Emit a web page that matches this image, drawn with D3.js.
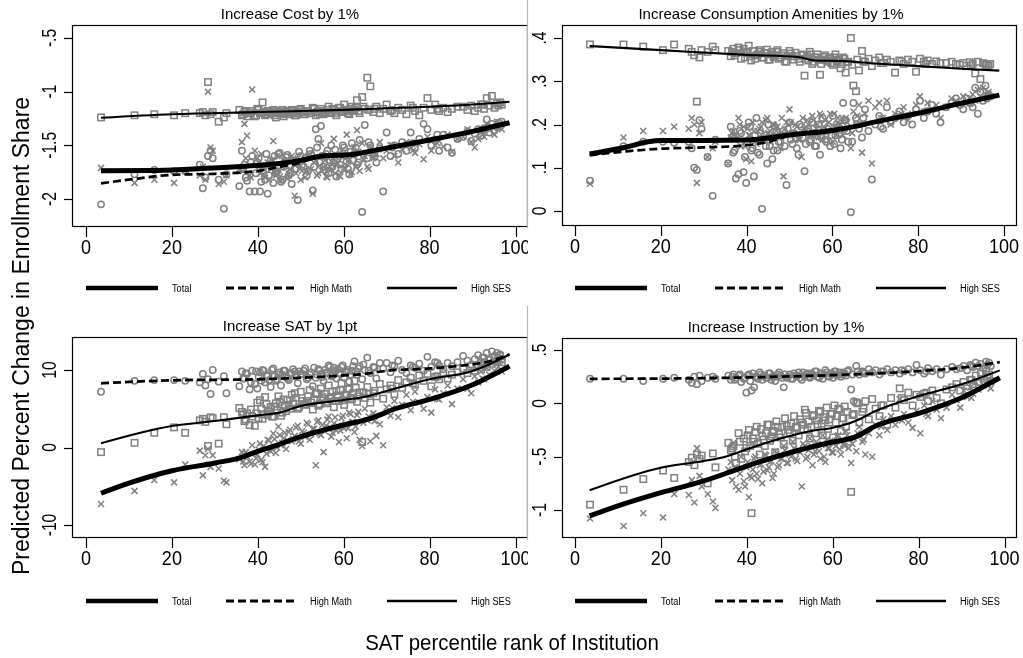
<!DOCTYPE html>
<html>
<head>
<meta charset="utf-8">
<script src="https://cdn.jsdelivr.net/npm/d3@7"></script>
<style>
  body { margin: 0; background: #fff; }
  svg { display: block; filter: grayscale(100%); }
  text { font-family: Arial, "Liberation Sans", Helvetica, sans-serif; fill: #000; }
</style>
</head>
<body>
<svg id="chart" width="1023" height="658"></svg>
<script>
// SAT percentile rank of each institution (shared by all four panels)
const institutionRank = [
  3.5, 11.3, 15.9, 20.5, 23.1, 26.5, 27.2, 27.8, 28.4, 29.0,
  29.5, 30.9, 32.1, 32.7, 35.7, 36.3, 36.9, 37.5, 38.1, 38.7,
  39.3, 39.9, 40.5, 41.1, 41.7, 42.3, 43.0, 43.6, 44.2, 44.8,
  45.4, 46.0, 46.6, 47.2, 47.9, 48.6, 49.3, 50.0, 50.7, 51.4,
  52.1, 52.8, 53.5, 54.1, 54.7, 55.3, 55.9, 56.5, 57.1, 57.7,
  58.3, 58.9, 59.5, 60.1, 60.7, 61.3, 61.9, 62.5, 63.1, 63.7,
  64.3, 64.9, 65.5, 66.2, 66.9, 67.6, 68.4, 69.2, 70.0, 70.9,
  71.8, 72.7, 73.6, 74.6, 75.6, 76.6, 77.6, 78.6, 79.5, 80.4,
  81.3, 82.2, 83.2, 84.2, 85.2, 87.8, 88.8, 89.7, 90.5, 91.3,
  92.0, 92.7, 93.3, 93.9, 94.5, 95.1, 95.7, 96.0, 96.4, 96.8,
  36.6, 37.2, 38.4, 39.6, 40.2, 40.8, 41.4, 42.0, 42.6, 43.3,
  43.9, 44.5, 45.1, 45.7, 46.3, 46.9, 47.5, 48.2, 48.9, 49.6,
  50.3, 51.0, 51.7, 52.4, 53.1, 53.8, 54.4, 55.0, 55.6, 56.2,
  56.8, 57.4, 58.0, 58.6, 59.2, 59.8, 60.4, 61.0, 61.6, 62.2,
  62.8, 63.4, 64.6, 65.8, 67.2, 71.3, 76.1, 81.8, 86.5, 92.3
];

// Increase Cost by 1%
const costTotal = [
  -1.71,-1.85,-1.82,-1.85,-1.74,-1.78,-1.70,-1.82,-1.00,-1.52,
  -1.55,-1.86,-1.84,-1.78,-1.72,-1.47,-1.30,-1.41,-1.78,-0.98,
  -1.55,-1.62,-1.76,-1.70,-1.80,-1.66,-1.72,-1.46,-1.78,-1.73,
  -1.83,-1.64,-1.70,-1.77,-1.60,-1.97,-1.62,-1.82,-1.66,-1.74,
  -1.58,-1.95,-1.64,-1.76,-1.48,-1.70,-1.79,-1.62,-1.73,-1.44,
  -1.68,-1.78,-1.55,-1.71,-1.40,-1.63,-1.75,-1.52,-1.36,-1.74,
  -1.48,-1.60,-1.70,-1.52,-1.62,-1.58,-1.47,-1.62,-1.55,-1.50,
  -1.60,-1.66,-1.54,-1.47,-1.52,-1.57,-1.49,-1.63,-1.42,-1.55,
  -1.50,-1.46,-1.51,-1.40,-1.56,-1.42,-1.35,-1.47,-1.52,-1.44,
  -1.38,-1.42,-1.30,-1.36,-1.32,-1.40,-1.28,-1.34,-1.30,-1.35,
  -1.74,-1.62,-1.80,-1.68,-1.73,-1.58,-1.77,-1.69,-1.82,-1.64,
  -1.75,-1.60,-1.79,-1.70,-1.66,-1.81,-1.72,-1.63,-1.76,-1.68,
  -1.74,-1.80,-1.60,-1.72,-1.66,-1.78,-1.69,-1.74,-1.64,-1.80,
  -1.70,-1.62,-1.76,-1.67,-1.79,-1.58,-1.72,-1.65,-1.77,-1.60,
  -1.70,-1.56,-1.64,-1.72,-1.58,-1.50,-1.55,-1.48,-1.44,-1.40
];
const costMath = [
  -2.05,-1.77,-1.73,-1.74,-1.74,-1.68,-1.90,-1.80,-1.60,-1.55,
  -1.62,-1.82,-2.09,-1.77,-1.88,-1.55,-1.68,-1.83,-1.93,-1.60,
  -1.93,-1.66,-1.93,-1.74,-1.82,-1.95,-1.64,-1.85,-1.76,-1.58,
  -1.84,-1.70,-1.61,-1.78,-1.86,-1.72,-2.01,-1.60,-1.70,-1.78,
  -1.55,-1.92,-1.35,-1.44,-1.32,-1.70,-1.58,-1.76,-1.50,-1.66,
  -1.79,-1.60,-1.72,-1.52,-1.65,-1.77,-1.48,-1.58,-1.68,-1.45,
  -2.12,-1.31,-1.62,-1.50,-1.58,-1.66,-1.53,-1.93,-1.38,-1.60,
  -1.50,-1.58,-1.47,-1.55,-1.38,-1.52,-1.44,-1.30,-1.35,-1.50,
  -1.45,-1.55,-1.40,-1.52,-1.57,-1.42,-1.37,-1.46,-1.39,-1.35,
  -1.41,-1.34,-1.26,-1.38,-1.30,-1.36,-1.33,-1.29,-1.32,-1.28,
  -1.72,-1.80,-1.66,-1.76,-1.62,-1.84,-1.70,-1.58,-1.78,-1.68,
  -1.60,-1.74,-1.57,-1.82,-1.66,-1.59,-1.76,-1.64,-1.72,-1.56,
  -1.68,-1.62,-1.74,-1.58,-1.70,-1.52,-1.66,-1.60,-1.73,-1.55,
  -1.64,-1.70,-1.54,-1.62,-1.68,-1.50,-1.60,-1.72,-1.56,-1.64,
  -1.52,-1.66,-1.58,-1.47,-1.60,-1.52,-1.48,-1.40,-1.44,-1.36
];
const costSES = [
  -1.24,-1.22,-1.21,-1.22,-1.20,-1.20,-1.19,-1.22,-0.91,-1.21,
  -1.19,-1.28,-1.24,-1.20,-1.17,-1.22,-1.19,-1.23,-1.20,-1.18,
  -1.23,-1.16,-1.20,-1.10,-1.22,-1.18,-1.20,-1.17,-1.24,-1.19,
  -1.20,-1.23,-1.18,-1.21,-1.17,-1.22,-1.19,-1.16,-1.21,-1.18,
  -1.20,-1.15,-1.22,-1.18,-1.16,-1.21,-1.19,-1.14,-1.20,-1.17,
  -1.22,-1.15,-1.19,-1.12,-1.18,-1.21,-1.14,-1.17,-1.08,-1.20,
  -1.05,-1.16,-0.87,-0.95,-1.19,-1.14,-1.20,-1.16,-1.12,-1.18,
  -1.20,-1.15,-1.17,-1.21,-1.13,-1.18,-1.22,-1.15,-1.06,-1.17,
  -1.12,-1.18,-1.15,-1.19,-1.16,-1.14,-1.17,-1.13,-1.18,-1.15,
  -1.12,-1.16,-1.06,-1.13,-1.04,-1.15,-1.11,-1.13,-1.10,-1.12,
  -1.21,-1.18,-1.20,-1.22,-1.17,-1.20,-1.19,-1.21,-1.18,-1.20,
  -1.22,-1.18,-1.20,-1.17,-1.21,-1.19,-1.18,-1.20,-1.22,-1.17,
  -1.19,-1.21,-1.18,-1.20,-1.16,-1.19,-1.21,-1.18,-1.20,-1.17,
  -1.19,-1.16,-1.20,-1.18,-1.15,-1.19,-1.17,-1.20,-1.16,-1.18,
  -1.15,-1.18,-1.14,-1.17,-1.16,-1.17,-1.15,-1.16,-1.14,-1.12
];
const costFitTotal = [[3.5,-1.737],[15,-1.735],[25,-1.72],[35,-1.70],[45,-1.67],[50,-1.64],[55,-1.60],[62,-1.585],[68,-1.54],[80,-1.45],[90,-1.37],[98.6,-1.29]];
const costFitMath = [[3.5,-1.854],[12,-1.81],[20,-1.775],[30,-1.765],[40,-1.74],[45,-1.70],[50,-1.66],[54,-1.60],[62,-1.585],[70,-1.52],[80,-1.45],[90,-1.37],[98.6,-1.295]];
const costFitSES = [[3.5,-1.243],[20,-1.21],[40,-1.19],[60,-1.17],[70,-1.155],[80,-1.14],[90,-1.12],[98.6,-1.094]];
const costTicks = [-0.5, -1, -1.5, -2];
const costTickLabels = ["-.5", "-1", "-1.5", "-2"];

// Increase Consumption Amenities by 1%
const amenTotal = [
  .063,.170,.185,.185,.195,.190,.215,.200,.065,.180,
  .205,.125,.145,.160,.110,.170,.185,.175,.215,.150,
  .195,.120,.175,.115,.185,.155,.190,.205,.165,.215,
  .185,.200,.170,.195,.145,.080,.205,.235,.180,.200,
  .165,.125,.190,.210,.175,.220,.180,.200,.225,.165,
  .210,.185,.225,.160,.195,.215,.200,.175,.215,.190,
  .145,.230,.200,.245,.135,.225,.255,.110,.240,.250,
  .215,.255,.200,.225,.215,.240,.210,.225,.245,.265,
  .230,.250,.235,.245,.215,.260,.255,.245,.265,.250,
  .260,.270,.255,.280,.265,.285,.270,.260,.275,.265,
  .180,.165,.200,.150,.190,.175,.205,.160,.185,.195,
  .170,.210,.180,.160,.200,.185,.170,.215,.190,.175,
  .205,.180,.195,.165,.215,.185,.200,.175,.210,.190,
  .170,.220,.195,.180,.205,.185,.225,.175,.200,.215,
  .190,.205,.180,.220,.200,.215,.225,.230,.240,.255
];
const amenMath = [
  .070,.150,.160,.160,.158,.160,.145,.100,.095,.210,
  .190,.125,.035,.165,.110,.195,.135,.075,.085,.180,
  .090,.065,.205,.140,.080,.215,.130,.005,.175,.110,
  .150,.120,.195,.140,.160,.185,.060,.205,.155,.170,
  .130,.195,.092,.185,.160,.205,.150,.175,.130,.215,
  .165,.190,.150,.220,.175,.195,.145,.250,.210,.160,
  -.003,.250,.215,.190,.170,.235,.185,.073,.200,.220,
  .190,.240,.205,.215,.230,.205,.220,.200,.235,.255,
  .215,.230,.245,.225,.205,.250,.260,.245,.235,.260,
  .250,.240,.285,.225,.275,.255,.290,.260,.270,.265,
  .170,.140,.185,.125,.160,.195,.145,.175,.135,.180,
  .165,.150,.200,.170,.140,.185,.160,.175,.150,.190,
  .165,.180,.145,.200,.170,.155,.190,.165,.180,.150,
  .200,.170,.185,.160,.195,.175,.155,.200,.180,.165,
  .210,.185,.160,.200,.215,.195,.220,.230,.240,.250
];
const amenSES = [
  .385,.385,.380,.372,.385,.375,.368,.360,.253,.355,
  .372,.368,.380,.372,.370,.358,.375,.365,.378,.352,
  .375,.368,.382,.348,.370,.360,.372,.355,.365,.373,
  .350,.368,.360,.372,.355,.365,.345,.370,.358,.366,
  .352,.362,.313,.358,.368,.340,.355,.362,.315,.350,
  .360,.345,.355,.338,.362,.350,.330,.355,.320,.345,
  .400,.290,.277,.325,.370,.345,.352,.335,.348,.355,
  .342,.350,.345,.320,.348,.340,.350,.345,.322,.352,
  .345,.348,.340,.346,.342,.345,.340,.338,.342,.336,
  .344,.340,.318,.345,.305,.342,.338,.340,.336,.340,
  .368,.360,.372,.355,.365,.358,.370,.352,.362,.368,
  .355,.365,.350,.362,.356,.368,.352,.360,.346,.358,
  .364,.350,.358,.345,.360,.352,.348,.362,.345,.355,
  .350,.340,.356,.348,.352,.342,.355,.346,.350,.340,
  .352,.344,.338,.350,.346,.342,.346,.340,.342,.336
];
const amenFitTotal = [[3.4,.132],[12,.148],[17,.16],[20,.163],[30,.163],[40,.164],[45,.169],[50,.176],[60,.186],[65,.195],[70,.206],[80,.226],[90,.249],[98.9,.268]];
const amenFitMath = [[3.4,.129],[12,.138],[20,.144],[30,.147],[40,.152],[45,.16],[50,.174],[60,.185],[70,.205],[80,.225],[90,.248],[98.9,.267]];
const amenFitSES = [[3.4,.3815],[20,.372],[40,.361],[52,.356],[56,.348],[62,.347],[70,.341],[80,.335],[90,.329],[98.9,.3245]];
const amenTicks = [0.4, 0.3, 0.2, 0.1, 0];
const amenTickLabels = [".4", ".3", ".2", ".1", "0"];

// Increase SAT by 1pt
const satTotal = [
  -7.3,-5.6,-4.2,-4.5,-2.2,-0.4,-3.6,-1.0,-0.2,-2.5,
  -1.0,-2.7,-4.3,-4.5,-1.5,-0.6,-2.3,-1.2,-1.8,0.3,
  -2.2,-0.9,0.5,-1.9,-2.5,1.0,-0.5,1.8,-0.7,2.7,
  0.3,1.2,-0.2,2.0,0.8,1.5,2.8,0.5,1.9,3.2,
  1.0,2.4,-2.3,3.5,1.6,-0.6,2.8,4.0,1.4,3.1,
  2.2,0.7,3.8,2.5,1.2,4.5,3.3,2.0,4.2,1.0,
  0.2,5.0,3.5,0.8,4.4,1.5,3.0,0.3,5.2,4.1,
  6.0,3.9,5.5,6.8,4.8,7.2,5.8,5.0,6.5,4.5,
  7.5,6.2,7.0,8.0,5.6,8.8,7.6,7.0,9.2,8.4,
  9.8,8.8,10.3,9.4,10.8,9.9,11.0,10.4,11.2,9.8,
  -1.8,-0.6,-2.1,-1.4,-0.3,-1.6,0.2,-0.8,0.9,-0.2,
  1.1,0.0,1.6,0.6,1.9,0.9,2.3,1.1,2.6,0.8,
  2.1,1.4,3.0,1.7,2.4,3.3,1.8,2.9,2.1,3.6,
  2.6,1.9,3.9,2.8,2.2,4.1,3.0,2.5,4.3,3.3,
  2.7,4.6,3.2,4.0,3.4,5.1,5.9,6.3,7.6,8.9
];
const satMath = [
  7.2,8.6,8.7,8.7,8.6,8.4,9.5,8.0,8.8,6.9,
  10.0,8.5,9.2,7.0,7.9,9.8,8.9,9.5,7.5,9.9,
  8.2,7.6,9.7,10.0,8.4,9.2,7.8,10.2,8.6,9.4,
  8.0,9.9,9.1,8.7,9.6,9.8,8.3,9.5,9.9,8.8,
  9.4,7.9,9.0,10.1,9.5,8.6,9.7,10.6,9.2,10.3,
  8.9,9.6,10.4,9.0,9.8,8.5,9.9,11.1,9.4,10.5,
  8.8,10.0,11.6,9.6,10.4,8.9,10.9,10.2,10.9,9.7,
  10.5,11.2,10.0,9.6,10.6,10.3,10.8,9.9,11.7,10.4,
  11.0,10.6,10.1,10.9,10.5,11.8,11.2,10.7,11.4,11.9,
  11.0,11.6,12.2,11.3,12.4,11.8,12.2,11.6,12.0,11.4,
  8.9,9.6,8.4,9.8,9.1,8.6,9.9,9.3,8.7,10.0,
  9.2,8.8,9.7,9.4,9.9,8.9,9.6,10.1,9.2,9.8,
  9.5,10.2,9.0,9.7,10.3,9.4,9.9,9.1,10.0,9.6,
  10.4,9.3,9.8,10.1,9.5,10.6,9.7,10.0,9.4,10.5,
  9.8,10.2,10.7,9.9,10.3,10.6,10.4,10.9,11.0,11.6
];
const satSES = [
  -0.6,0.6,1.9,2.6,1.9,3.5,3.7,3.3,0.2,3.9,
  3.8,0.5,3.9,3.0,5.1,4.6,3.4,4.4,2.9,4.0,
  2.8,5.8,6.1,3.7,6.5,4.2,5.2,4.0,5.7,6.6,
  4.1,6.2,4.7,5.5,6.8,7.0,5.0,7.2,5.6,6.0,
  7.4,4.9,6.9,5.4,7.6,6.3,5.7,8.0,6.5,5.2,
  7.3,6.0,8.3,5.5,6.8,7.6,6.2,8.6,5.9,7.1,
  0.7,6.4,7.8,5.8,7.0,6.6,8.2,6.3,7.5,8.0,
  6.9,8.7,7.7,8.4,9.0,8.1,9.3,8.6,9.5,7.9,
  9.1,8.8,9.6,8.9,9.4,10.2,9.6,10.5,9.9,10.6,
  10.1,11.0,10.4,11.3,10.8,11.6,11.1,11.4,11.8,11.0,
  4.2,3.6,4.9,4.4,3.8,5.0,4.3,5.6,4.6,4.0,
  5.3,4.8,5.9,4.5,5.4,6.1,5.0,5.7,6.4,5.2,
  6.0,5.5,6.6,5.8,6.2,7.0,5.6,6.5,6.9,5.9,
  6.3,7.2,6.0,6.7,7.4,6.1,6.8,7.5,6.4,7.0,
  7.7,6.6,7.1,6.9,7.3,7.6,8.3,9.2,9.7,10.6
];
const satFitTotal = [[3.5,-5.9],[10,-4.6],[20,-3.0],[30,-2.0],[36,-1.3],[40,-0.5],[45,0.4],[50,1.4],[55,2.2],[60,2.9],[67,3.9],[72,5.0],[80,6.2],[90,8.1],[98.6,10.5]];
const satFitMath = [[3.5,8.28],[20,8.67],[40,8.8],[50,9.0],[60,9.3],[65,9.5],[70,9.9],[80,10.2],[88,10.6],[93,11.0],[98.6,12.0]];
const satFitSES = [[3.5,0.54],[20,2.77],[30,3.42],[40,4.15],[45,4.5],[50,5.35],[60,6.13],[65,6.56],[70,7.3],[80,8.8],[90,9.87],[98.6,12.0]];
const satTicks = [10, 0, -10];
const satTickLabels = ["10", "0", "-10"];

// Increase Instruction by 1%
const instTotal = [
  -1.08,-1.15,-1.03,-1.07,-0.85,-0.86,-0.72,-0.93,-0.42,-0.68,
  -0.78,-0.85,-0.92,-0.98,-0.62,-0.55,-0.37,-0.78,-0.81,-0.50,
  -0.73,-0.60,-0.88,-0.70,-0.52,-0.66,-0.58,-0.75,-0.48,-0.63,
  -0.55,-0.70,-0.45,-0.60,-0.52,-0.40,-0.56,-0.48,-0.36,-0.52,
  -0.44,-0.78,-0.40,-0.50,-0.33,-0.58,-0.45,-0.38,-0.52,-0.30,
  -0.55,-0.42,-0.35,-0.46,-0.40,-0.30,-0.48,-0.38,-0.26,-0.42,
  -0.56,-0.33,-0.45,-0.22,-0.36,-0.48,-0.28,-0.50,-0.20,-0.30,
  -0.15,-0.25,-0.12,-0.20,0.04,-0.10,-0.18,-0.23,-0.07,-0.28,
  -0.02,-0.12,0.02,-0.06,-0.14,0.08,0.03,-0.04,0.12,0.06,
  0.15,0.09,0.20,0.13,0.24,0.17,0.26,0.18,0.22,0.14,
  -0.72,-0.60,-0.66,-0.78,-0.55,-0.68,-0.62,-0.50,-0.71,-0.57,
  -0.64,-0.49,-0.60,-0.54,-0.66,-0.47,-0.58,-0.52,-0.44,-0.56,
  -0.50,-0.42,-0.54,-0.46,-0.38,-0.52,-0.44,-0.40,-0.48,-0.36,
  -0.45,-0.39,-0.50,-0.34,-0.42,-0.46,-0.37,-0.31,-0.43,-0.35,
  -0.40,-0.30,-0.38,-0.28,-0.34,-0.22,-0.16,-0.10,-0.04,0.05
];
const instMath = [
  .23,.23,.21,.23,.24,.22,.19,.25,.18,.26,
  .21,.24,.25,.23,.26,.22,.27,.24,.26,.20,
  .23,.10,.27,.12,.15,.25,.29,.22,.26,.24,
  .28,.25,.21,.27,.26,.15,.24,.27,.23,.26,
  .29,.22,.25,.28,.24,.27,.30,.25,.28,.23,
  .31,.26,.28,.24,.30,.27,.25,.29,.26,.31,
  .13,.02,.35,.27,.30,.28,.32,.29,.31,.27,
  .30,.32,.29,.31,.28,.30,.32,.29,.36,.31,
  .28,.33,.30,.32,.27,.34,.32,.33,.35,.31,
  .36,.34,.38,.35,.37,.33,.39,.36,.38,.35,
  .25,.22,.27,.24,.26,.21,.28,.25,.23,.27,
  .26,.24,.28,.22,.26,.25,.29,.24,.27,.25,
  .23,.28,.26,.24,.29,.27,.25,.28,.26,.30,
  .24,.28,.27,.29,.25,.28,.30,.26,.29,.27,
  .28,.30,.27,.30,.29,.30,.31,.30,.32,.35
];
const instSES = [
  -0.95,-0.81,-0.71,-0.63,-0.70,-0.55,-0.51,-0.58,-0.48,-0.52,
  -0.49,-0.75,-0.47,-0.60,-0.37,-0.44,-0.40,-0.56,-0.28,-0.52,
  -0.33,-0.42,-0.25,-1.03,-0.36,-0.22,-0.48,-0.31,-0.40,-0.20,
  -0.35,-0.27,-0.46,-0.22,-0.32,-0.38,-0.21,-0.28,-0.35,-0.22,
  -0.30,-0.18,-0.06,-0.25,-0.33,-0.12,-0.28,-0.20,-0.08,-0.30,
  -0.16,-0.24,-0.10,-0.32,-0.18,-0.05,-0.26,-0.14,-0.22,-0.36,
  -0.83,-0.10,0.01,-0.18,-0.08,0.02,-0.15,0.04,-0.05,-0.12,
  -0.02,-0.20,0.05,-0.04,0.14,0.03,0.10,-0.02,0.08,0.06,
  0.09,0.02,0.12,0.05,0.00,0.15,0.18,0.12,0.20,0.16,
  0.22,0.18,0.26,0.20,0.28,0.23,0.30,0.25,0.27,0.21,
  -0.42,-0.50,-0.36,-0.45,-0.30,-0.40,-0.33,-0.27,-0.38,-0.24,
  -0.34,-0.28,-0.20,-0.31,-0.26,-0.17,-0.29,-0.22,-0.14,-0.25,
  -0.19,-0.12,-0.23,-0.15,-0.20,-0.09,-0.17,-0.22,-0.11,-0.16,
  -0.07,-0.19,-0.13,-0.04,-0.15,-0.10,-0.02,-0.12,-0.06,-0.14,
  -0.03,-0.08,-0.11,0.00,-0.05,-0.02,0.05,0.10,0.13,0.22
];
const instFitTotal = [[3.4,-1.056],[10,-0.962],[20,-0.838],[30,-0.728],[40,-0.588],[50,-0.463],[60,-0.363],[65,-0.32],[70,-0.213],[80,-0.094],[90,0.053],[98.9,0.24]];
const instFitMath = [[3.4,.23],[20,.232],[40,.243],[60,.265],[70,.28],[80,.303],[90,.334],[98.9,.387]];
const instFitSES = [[3.4,-0.815],[20,-0.603],[30,-0.54],[35,-0.50],[40,-0.43],[50,-0.306],[55,-0.26],[60,-0.228],[65,-0.17],[70,-0.072],[80,0.068],[90,0.178],[98.9,0.309]];
const instTicks = [0.5, 0, -0.5, -1];
const instTickLabels = [".5", "0", "-.5", "-1"];

const xTicks = [0, 20, 40, 60, 80, 100];
const legendLabels = ["Total", "High Math", "High SES"];
const panelTitles = ["Increase Cost by 1%", "Increase Consumption Amenities by 1%",
                     "Increase SAT by 1pt", "Increase Instruction by 1%"];

// ---- layout ----
const GRAY = "#808080";
const svg = d3.select("#chart");

// each panel: plot box, pixel anchors for two x values and two y tick values
const panels = [
  { title: panelTitles[0], titleX: 290, box: {l: 72,  r: 528,  t: 25,  b: 227}, xPx: [86, 515.5], yPx: [38, 199], yRefs: [-0.5, -2], legendY: 288,
    ticks: costTicks, tickLabels: costTickLabels, total: costTotal, math: costMath, ses: costSES,
    fits: [costFitTotal, costFitMath, costFitSES] },
  { title: panelTitles[1], titleX: 771, box: {l: 562, r: 1017, t: 25,  b: 226}, xPx: [575, 1004], yPx: [38, 211], yRefs: [0.4, 0], legendY: 288,
    ticks: amenTicks, tickLabels: amenTickLabels, total: amenTotal, math: amenMath, ses: amenSES,
    fits: [amenFitTotal, amenFitMath, amenFitSES] },
  { title: panelTitles[2], titleX: 290, box: {l: 72,  r: 528,  t: 337, b: 538}, xPx: [86, 515.5], yPx: [370, 525], yRefs: [10, -10], legendY: 601,
    ticks: satTicks, tickLabels: satTickLabels, total: satTotal, math: satMath, ses: satSES,
    fits: [satFitTotal, satFitMath, satFitSES] },
  { title: panelTitles[3], titleX: 776, box: {l: 562, r: 1017, t: 338, b: 538}, xPx: [575, 1004.5], yPx: [350, 510], yRefs: [0.5, -1], legendY: 601,
    ticks: instTicks, tickLabels: instTickLabels, total: instTotal, math: instMath, ses: instSES,
    fits: [instFitTotal, instFitMath, instFitSES] }
];

function label(g, x, y, s, size, opts = {}) {
  const rot = opts.rot || 0, sx = opts.sx || 1;
  return g.append("text")
    .attr("transform", `translate(${x},${y}) rotate(${rot}) scale(${sx},1)`)
    .attr("text-anchor", opts.anchor || "middle")
    .style("font-size", size + "px")
    .text(s);
}

const lineStyles = [
  { width: 5.0, dash: null },
  { width: 2.7, dash: "8,4" },
  { width: 2.1, dash: null }
];

function drawPanel(p) {
  const g = svg.append("g");
  const x = d3.scaleLinear().domain([0, 100]).range(p.xPx);
  const y = d3.scaleLinear().domain(p.yRefs).range(p.yPx);
  const b = p.box;

  // title
  label(g, p.titleX, b.t - 6.5, p.title, 15);

  // plot box
  g.append("rect").attr("x", b.l + 0.5).attr("y", b.t + 0.5)
    .attr("width", b.r - b.l - 1).attr("height", b.b - b.t - 1)
    .attr("fill", "#fff").attr("stroke", "#000").attr("stroke-width", 1.2);

  // y axis ticks and rotated labels
  p.ticks.forEach((t, i) => {
    const yy = Math.round(y(t)) + 0.5;
    g.append("line").attr("x1", b.l - 8).attr("x2", b.l).attr("y1", yy).attr("y2", yy)
      .attr("stroke", "#000").attr("stroke-width", 1.2);
    label(g, b.l - 16, y(t), p.tickLabels[i], 20, { rot: -90, sx: 0.78 });
  });

  // x axis ticks and labels
  xTicks.forEach(t => {
    const xx = Math.round(x(t)) + 0.5;
    g.append("line").attr("x1", xx).attr("x2", xx).attr("y1", b.b).attr("y2", b.b + 10)
      .attr("stroke", "#000").attr("stroke-width", 1.2);
    label(g, x(t), b.b + 27, String(t), 20.5, { sx: 0.88 });
  });

  // scatter: Total (x), High Math (circle), High SES (square)
  const pts = g.append("g").attr("fill", "none").attr("stroke", GRAY).attr("stroke-width", 1.5);
  institutionRank.forEach((r, i) => {
    const px = x(r);
    const yt = y(p.total[i]);
    pts.append("path").attr("d", `M${px - 3},${yt - 3}L${px + 3},${yt + 3}M${px - 3},${yt + 3}L${px + 3},${yt - 3}`);
  });
  institutionRank.forEach((r, i) => {
    pts.append("circle").attr("cx", x(r)).attr("cy", y(p.math[i])).attr("r", 3.2);
  });
  institutionRank.forEach((r, i) => {
    pts.append("rect").attr("x", x(r) - 3.2).attr("y", y(p.ses[i]) - 3.2).attr("width", 6.4).attr("height", 6.4);
  });

  // smoothed fits
  const line = d3.line().x(d => x(d[0])).y(d => y(d[1])).curve(d3.curveMonotoneX);
  p.fits.forEach((f, k) => {
    g.append("path").attr("d", line(f)).attr("fill", "none").attr("stroke", "#000")
      .attr("stroke-width", lineStyles[k].width)
      .attr("stroke-dasharray", lineStyles[k].dash)
      .attr("stroke-linejoin", "round");
  });

  // legend row
  const x0 = p.xPx[0];
  const keys = [[0, 72, 86], [140, 210, 224], [301, 371, 385]];
  keys.forEach((k, i) => {
    g.append("line").attr("x1", x0 + k[0]).attr("x2", x0 + k[1])
      .attr("y1", p.legendY).attr("y2", p.legendY)
      .attr("stroke", "#000").attr("stroke-width", i === 0 ? 4.6 : (i === 1 ? 2.8 : 2.6))
      .attr("stroke-dasharray", lineStyles[i].dash);
    label(g, x0 + k[2], p.legendY + 4, legendLabels[i], 11.5, { anchor: "start", sx: 0.8 });
  });
}

// left column first, then the right column's white area over the overflow
drawPanel(panels[0]);
drawPanel(panels[2]);
svg.append("rect").attr("x", 528).attr("y", 0).attr("width", 495).attr("height", 620).attr("fill", "#fff");
svg.append("line").attr("x1", 527.5).attr("x2", 527.5).attr("y1", 0).attr("y2", 228).attr("stroke", "#b4b4b4").attr("stroke-width", 1.2);
svg.append("line").attr("x1", 527.5).attr("x2", 527.5).attr("y1", 306).attr("y2", 540).attr("stroke", "#b4b4b4").attr("stroke-width", 1.2);
drawPanel(panels[1]);
drawPanel(panels[3]);

// shared axis titles
label(svg, 29, 336, "Predicted Percent Change in Enrollment Share", 23, { rot: -90 });
label(svg, 512, 650, "SAT percentile rank of Institution", 22, { sx: 0.93 });
</script>
</body>
</html>
